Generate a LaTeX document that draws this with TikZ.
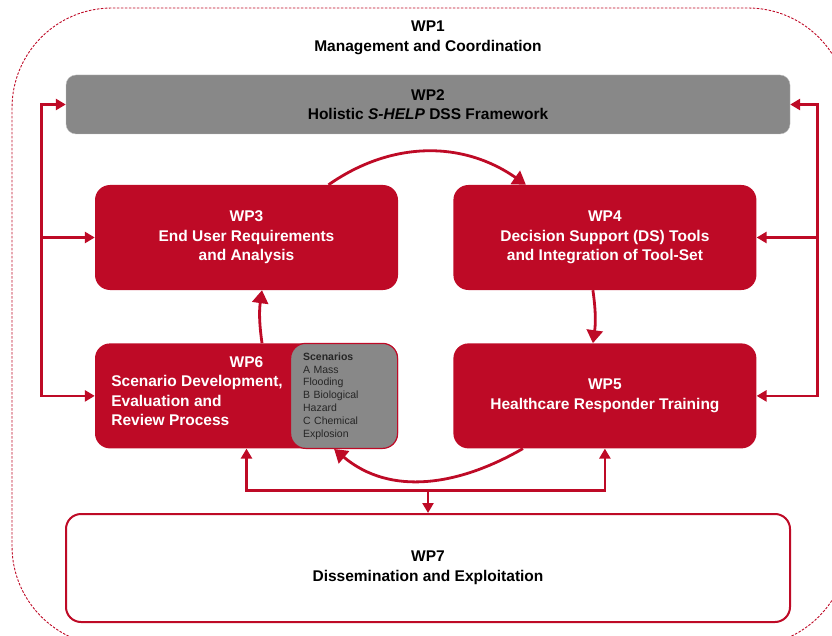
\documentclass[tikz,border=0pt]{standalone}
\usepackage{fontspec}
\setmainfont{Liberation Sans}
\usepackage{xcolor}
\usepackage{tikz}
\usetikzlibrary{arrows.meta,positioning}

\definecolor{wpred}{RGB}{190,10,38}
\definecolor{wpgray}{RGB}{136,136,136}
\newcommand{\wpfont}{\fontsize{15.5}{19.5}\selectfont}
\newcommand{\scenfont}{\fontsize{10.5}{12.8}\selectfont}

\begin{document}
\begin{tikzpicture}[
    x=1pt, y=1pt,
    node distance=53pt and 55pt,
    redbox/.style={rectangle, rounded corners=15pt, fill=wpred, minimum width=303pt, minimum height=105pt, align=center, text=white, font=\bfseries\wpfont},
    widebox/.style={rectangle, minimum width=724pt, align=center, text=black, font=\bfseries\wpfont},
    scenbox/.style={rectangle, rounded corners=15pt, fill=wpgray, draw=wpred, line width=1.2pt, minimum width=107pt, minimum height=105pt, text width=82pt, align=left, text=black!85, font=\scenfont},
    wplabel/.style={text=white, font=\bfseries\wpfont},
    fb/.style={draw=wpred, line width=2.8pt},
    tip/.tip={Triangle[length=10pt, width=11pt]},
    bigtip/.tip={Triangle[length=13pt, width=16pt]},
    curve/.style={fb, -bigtip}
]
    \useasboundingbox (0,0) rectangle (832,-636);

    % WP1 frame
    \begin{scope}
        \clip (0,0) rectangle (832,-636);
        \draw[wpred, line width=0.9pt, dash pattern=on 2.5pt off 1.5pt, rounded corners=100pt] (12,-8) rectangle (848,-646);
    \end{scope}
    \node[align=center, font=\bfseries\wpfont] (wp1) at (428,-38) {WP1\\Management and Coordination};

    % Work packages
    \node[widebox, fill=wpgray, draw=black!25, rounded corners=10pt, minimum height=59pt] (wp2) at (428,-104.5) {WP2\\Holistic \textit{S-HELP} DSS Framework};
    \node[redbox] (wp3) at (246.5,-237.5) {WP3\\End User Requirements\\and Analysis};
    \node[redbox, right=of wp3] (wp4) {WP4\\Decision Support (DS) Tools\\and Integration of Tool-Set};
    \node[redbox, below=of wp3] (wp6) {};
    \node[redbox, below=of wp4] (wp5) {WP5\\Healthcare Responder Training};
    \node[scenbox, anchor=east] (scen) at (wp6.east) {\textbf{Scenarios}\\A Mass\\Flooding\\B Biological\\Hazard\\C Chemical\\Explosion};
    \node[wplabel] (wp6t) at ([yshift=-19pt]wp6.north) {WP6};
    \node[wplabel, anchor=west, align=left] (wp6d) at ([xshift=13pt, yshift=-5pt]wp6.west) {Scenario Development,\\Evaluation and\\Review Process};
    \node[widebox, fill=white, draw=wpred, line width=2pt, rounded corners=15pt, minimum height=108pt] (wp7) at (428,-568) {WP7\\Dissemination and Exploitation};

    % Feedback lines
    \coordinate (lt) at ([xshift=-24pt]wp2.west);
    \coordinate (rt) at ([xshift=27pt]wp2.east);
    \coordinate (bm) at ([yshift=-42pt]wp6.south);
    \draw[fb, tip-tip] (wp2.west) -- (lt) -- (lt |- wp6.west) -- (wp6.west);
    \draw[fb, -tip] (lt |- wp3.west) -- (wp3.west);
    \draw[fb, tip-tip] (wp2.east) -- (rt) -- (rt |- wp5.east) -- (wp5.east);
    \draw[fb, -tip] (rt |- wp4.east) -- (wp4.east);
    \draw[fb, tip-tip] (wp6.south) -- (bm) -- (bm -| wp5.south) -- (wp5.south);
    \draw[fb, -tip] (bm -| wp7.north) -- (wp7.north);

    % Cycle
    \draw[curve] ([xshift=82pt]wp3.north) to[out=35, in=145] ([xshift=-79pt]wp4.north);
    \draw[curve] ([xshift=-12pt]wp4.south) to[bend left=8] ([xshift=-12pt]wp5.north);
    \draw[curve] ([xshift=-82pt]wp5.south) to[out=-150, in=-40] ([xshift=-10pt]scen.south);
    \draw[curve] ([xshift=15.5pt]wp6.north) to[bend left=8] ([xshift=15.5pt]wp3.south);
\end{tikzpicture}
\end{document}
